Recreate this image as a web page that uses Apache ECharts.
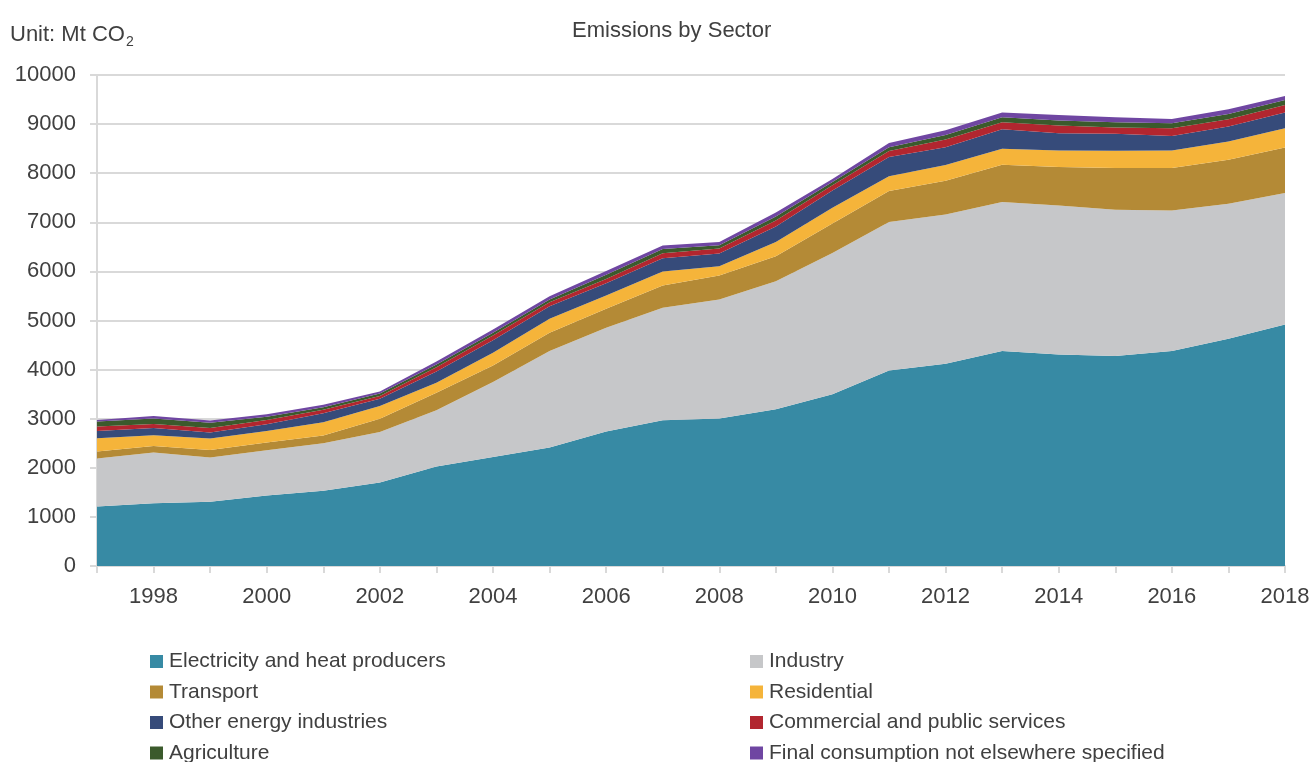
<!DOCTYPE html>
<html>
<head>
<meta charset="utf-8">
<title>Emissions by Sector</title>
<script src="https://cdn.jsdelivr.net/npm/echarts@6/dist/echarts.min.js"></script>
<style>
    html,body{margin:0;padding:0;background:#ffffff;}
    #container{width:1313px;height:762px;}
</style>
</head>
<body>
<div id="container"></div>
<script>
var years=['1997','1998','1999','2000','2001','2002','2003','2004','2005','2006','2007',
    '2008','2009','2010','2011','2012','2013','2014','2015','2016','2017','2018'];

// Mt CO2
var electricity=[1213,1280,1307,1437,1531,1701,2026,2222,2412,2737,2967,3002,3191,3496,3984,4120,4377,4309,4275,4377,4628,4919];
var industry=[976,1031,902,921,969,1026,1145,1524,1965,2113,2291,2425,2608,2880,3022,3040,3035,3035,2981,2865,2750,2676];
var transport=[142,135,155,156,160,270,359,339,373,390,457,491,508,600,634,686,759,780,848,862,894,927];
var residential=[271,217,232,236,270,260,200,258,284,270,285,186,292,320,300,319,325,337,351,357,373,394];
var otherEnergy=[148,148,121,136,180,150,230,257,257,250,270,262,318,350,390,365,400,354,346,299,304,318];
var commercial=[89,82,94,88,70,55,88,95,81,85,100,102,122,110,120,156,142,155,128,156,151,156];
var agriculture=[102,109,109,68,55,50,54,55,55,85,85,67,81,65,80,94,102,102,109,102,107,102];
var finalOther=[35,53,41,47,50,42,61,67,67,80,75,65,81,60,85,95,94,115,102,88,96,81];

var names=['Electricity and heat producers','Industry','Transport','Residential',
    'Other energy industries','Commercial and public services','Agriculture',
    'Final consumption not elsewhere specified'];
var values=[electricity,industry,transport,residential,otherEnergy,commercial,agriculture,finalOther];
var colors=['#378aa4','#c6c7c9','#b48a36','#f5b43a','#364b7a','#b2262f','#3b5a2c','#6f46a2'];

var fontName='"Liberation Sans", Arial, sans-serif';
var textColor='#404040';
var lineColor='#d9d9d9';

var seriesData=[];
for(var s=0;s<names.length;s++){
    seriesData.push({
        name:names[s],
        type:'line',
        stack:'total',
        symbol:'none',
        lineStyle:{width:0},
        areaStyle:{color:colors[s],opacity:1},
        emphasis:{disabled:true},
        data:values[s]
    });
}

// legend: 2 columns x 4 rows, one component per entry so columns line up
var legendList=[];
for(var l=0;l<names.length;l++){
    legendList.push({
        left:(l%2===0)?150:750,
        top:651+Math.floor(l/2)*30.5,
        icon:'rect',
        itemWidth:13,
        itemHeight:13,
        itemGap:0,
        padding:0,
        selectedMode:false,
        textStyle:{fontSize:21,color:textColor,fontFamily:fontName,padding:[0,0,0,1]},
        data:[names[l]]
    });
}

var dom=document.getElementById('container');
var myChart=echarts.init(dom);
var option={
    backgroundColor:'#ffffff',
    animation:false,
    color:colors,
    title:[{
        text:'Emissions by Sector',
        left:567,
        top:15,
        textStyle:{fontSize:22,fontWeight:'normal',color:textColor,fontFamily:fontName}
    },{
        text:'{a|Unit: Mt CO}{b|2}',
        left:5,
        top:15,
        textStyle:{
            fontWeight:'normal',
            rich:{
                a:{fontSize:22,fontWeight:'normal',color:textColor,fontFamily:fontName},
                b:{fontSize:14,fontWeight:'normal',color:textColor,fontFamily:fontName,verticalAlign:'bottom',padding:[15,0,0,1]}
            }
        }
    }],
    legend:legendList,
    grid:{left:97,right:28,top:75,bottom:196,containLabel:false},
    xAxis:{
        type:'category',
        boundaryGap:false,
        data:years,
        axisLine:{lineStyle:{color:lineColor,width:2}},
        axisTick:{show:true,interval:0,length:7,lineStyle:{color:lineColor,width:2}},
        axisLabel:{
            interval:function(index){ return index%2===1; },
            color:textColor,
            fontSize:22,
            fontFamily:fontName,
            margin:20
        },
        splitLine:{show:false}
    },
    yAxis:{
        type:'value',
        min:0,
        max:10000,
        interval:1000,
        axisLine:{show:true,lineStyle:{color:lineColor,width:2}},
        axisTick:{show:true,length:7,lineStyle:{color:lineColor,width:2}},
        axisLabel:{
            color:textColor,fontSize:22,fontFamily:fontName,margin:21,
            formatter:function(v){ return String(v); }
        },
        splitLine:{show:true,lineStyle:{color:lineColor,width:2}}
    },
    series:seriesData
};
myChart.setOption(option,true);
</script>
</body>
</html>
